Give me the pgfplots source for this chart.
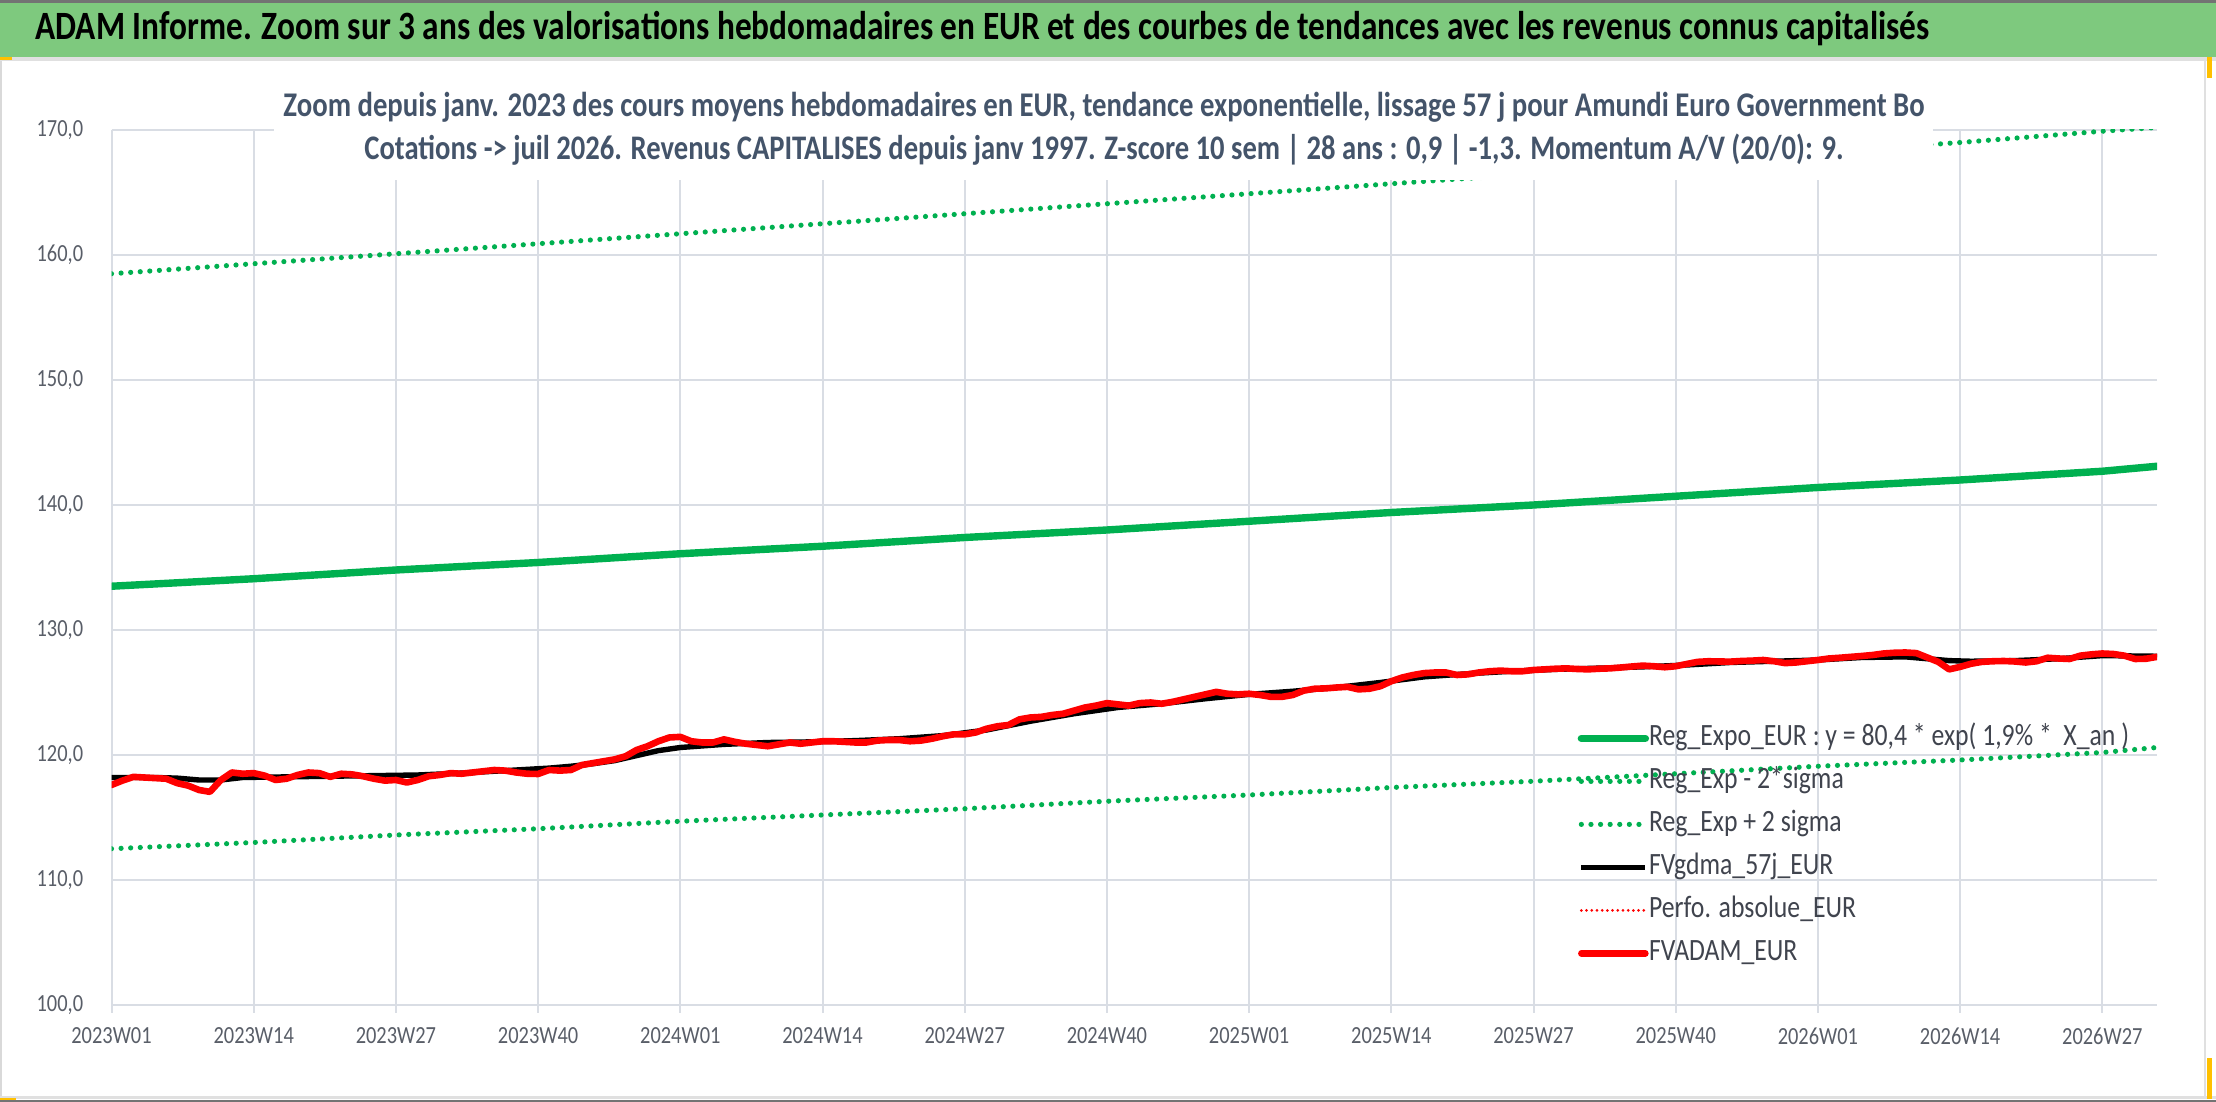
\documentclass[border=0pt]{standalone}
\usepackage{pgfplots}
\pgfplotsset{compat=1.18}
\usepackage{fontspec}
\setmainfont{Carlito}[FakeStretch=0.83]
\usepackage{graphicx}

\definecolor{bargreen}{RGB}{126,201,126}
\definecolor{xlgreen}{RGB}{0,176,80}
\definecolor{gridc}{RGB}{217,221,228}
\definecolor{titlec}{RGB}{68,84,106}
\definecolor{labc}{RGB}{89,94,104}
\definecolor{legc}{RGB}{64,68,78}
\definecolor{xlred}{RGB}{255,0,0}
\definecolor{handle}{RGB}{255,192,0}

\begin{document}
\begin{tikzpicture}[x=1pt,y=1pt]
\path[use as bounding box] (0,0) rectangle (1108,551);
\fill[white] (0,0) rectangle (1108,551);
% frame
\fill[black!55] (0,549.6) rectangle (1108,551);
\fill[bargreen] (0,522.5) rectangle (1108,549.6);
\fill[black!12] (0,520.6) rectangle (1108,522.3);
\fill[black!15] (0,0) rectangle (1,520.6);
\fill[black!12] (0,1.6) rectangle (1108,2.8);
\fill[black!55] (0,0) rectangle (1108,0.8);
\fill[black!12] (1102,2) rectangle (1103.2,520.6);
\fill[handle] (0,521) rectangle (6,522.5);
\fill[handle] (1103.5,512) rectangle (1106,522.5);
\fill[handle] (1103.5,1.5) rectangle (1106,22);
\fill[handle] (0,0.8) rectangle (8,2.2);

\begin{axis}[
  at={(55.75pt,48.5pt)}, anchor=south west,
  width=1022.75pt, height=437.5pt, scale only axis,
  xmin=0, xmax=187, ymin=100, ymax=170,
  axis line style={draw=none},
  xtick={0,13,26,39,52,65,78,91,104,117,130,143,156,169,182},
  xticklabels={2023W01,2023W14,2023W27,2023W40,2024W01,2024W14,2024W27,2024W40,2025W01,2025W14,2025W27,2025W40,2026W01,2026W14,2026W27},
  ytick={100,110,120,130,140,150,160,170},
  xmajorgrids, ymajorgrids,
  major grid style={draw=gridc, line width=1pt},
  tick align=outside, tick pos=left,
  major tick length=4pt,
  xtick style={draw=gridc, line width=1pt},
  ytick style={draw=none},
  ticklabel style={font=\fontsize{12.3}{14}\selectfont, text=labc},
  xticklabel style={anchor=north, inner sep=0pt, yshift=-7pt},
  yticklabel style={anchor=east, inner sep=0pt, xshift=-10pt},
  /pgf/number format/.cd, fixed, fixed zerofill, precision=1, use comma, 1000 sep={}, assume math mode=true,
  /pgfplots/.cd,
  legend cell align=left,
  legend image code/.code={\draw[#1] (0pt,0pt) -- (32pt,0pt);},
  legend style={at={(axis cs:134,122.52)}, anchor=north west, draw=none, fill=none,
    font=\fontsize{15.5}{17}\selectfont, text=legc, inner sep=0pt, row sep=7pt,
    nodes={inner sep=0pt, text height=11pt, text depth=3.5pt},
    /tikz/every even column/.append style={column sep=2.5pt}},
]
% Regression expo
\addplot[xlgreen, line width=3.7pt, line cap=round] coordinates {
(0,133.5)(13,134.1)(26,134.8)(39,135.4)(52,136.1)(65,136.7)(78,137.4)(91,138.0)(104,138.7)(117,139.4)(130,140.0)(143,140.7)(156,141.4)(169,142.0)(182,142.7)(187,143.1)};
\addlegendentry{Reg\_Expo\_EUR : y = 80,4 * exp( 1,9\% *\ \ X\_an )}
% lower band
\addplot[xlgreen, line width=2.6pt, line cap=round, dash pattern=on 0pt off 4.8pt] coordinates {
(0,112.5)(13,113.0)(26,113.6)(39,114.1)(52,114.7)(65,115.2)(78,115.7)(91,116.3)(104,116.8)(117,117.4)(130,117.9)(143,118.5)(156,119.1)(169,119.6)(182,120.2)(187,120.6)};
\addlegendentry{Reg\_Exp - 2*sigma}
% upper band
\addplot[xlgreen, line width=2.6pt, line cap=round, dash pattern=on 0pt off 4.8pt] coordinates {
(0,158.5)(13,159.3)(26,160.1)(39,160.9)(52,161.7)(65,162.5)(78,163.3)(91,164.1)(104,164.9)(117,165.7)(130,166.5)(143,167.4)(156,168.2)(169,169.0)(182,169.9)(187,170.2)};
\addlegendentry{Reg\_Exp + 2 sigma}
% smoothed 57 days
\addplot[black, line width=2.7pt, line join=round] coordinates {
(0,118.2)(4,118.2)(6,118.15)(8,118.0)(10,118.0)(12,118.2)(16,118.25)(20,118.3)(24,118.35)(28,118.4)(32,118.55)(36,118.75)(40,118.95)(42,119.1)(44,119.3)(46,119.55)(48,119.95)(50,120.35)(52,120.6)(56,120.85)(60,121.0)(64,121.05)(68,121.15)(72,121.3)(76,121.55)(80,122.0)(84,122.7)(88,123.3)(92,123.8)(96,124.1)(100,124.5)(104,124.85)(108,125.1)(112,125.4)(116,125.8)(120,126.25)(124,126.5)(128,126.7)(132,126.85)(136,126.95)(140,127.05)(144,127.2)(148,127.4)(152,127.5)(156,127.6)(160,127.8)(164,127.85)(166,127.7)(168,127.55)(170,127.5)(174,127.55)(178,127.7)(182,127.95)(187,127.9)};
\addlegendentry{FVgdma\_57j\_EUR}
\addlegendimage{xlred, line width=1.5pt, line cap=round, dash pattern=on 0pt off 2.6pt}
\addlegendentry{Perfo. absolue\_EUR}
% FVADAM
\addplot[xlred, line width=3.3pt, line join=round, line cap=round] coordinates {
(0,117.6)(1,117.95)(2,118.25)(3,118.2)(4,118.15)(5,118.1)(6,117.75)(7,117.55)(8,117.2)(9,117.05)(10,118.0)(11,118.6)(12,118.5)(13,118.55)(14,118.35)(15,118.0)(16,118.1)(17,118.4)(18,118.6)(19,118.55)(20,118.25)(21,118.5)(22,118.45)(23,118.3)(24,118.1)(25,117.95)(26,118.0)(27,117.8)(28,118.0)(29,118.3)(30,118.4)(31,118.55)(32,118.5)(33,118.6)(34,118.7)(35,118.8)(36,118.75)(37,118.6)(38,118.5)(39,118.48)(40,118.8)(41,118.75)(42,118.8)(43,119.2)(44,119.35)(45,119.5)(46,119.65)(47,119.9)(48,120.4)(49,120.7)(50,121.1)(51,121.4)(52,121.45)(53,121.1)(54,121.0)(55,121.0)(56,121.25)(57,121.05)(58,120.9)(59,120.8)(60,120.7)(61,120.85)(62,121.0)(63,120.9)(64,121.0)(65,121.1)(66,121.1)(67,121.05)(68,121.0)(69,121.0)(70,121.15)(71,121.2)(72,121.2)(73,121.1)(74,121.15)(75,121.3)(76,121.5)(77,121.65)(78,121.65)(79,121.8)(80,122.1)(81,122.3)(82,122.4)(83,122.85)(84,123.0)(85,123.05)(86,123.2)(87,123.3)(88,123.55)(89,123.8)(90,123.95)(91,124.15)(92,124.05)(93,123.95)(94,124.15)(95,124.2)(96,124.1)(97,124.25)(98,124.45)(99,124.65)(100,124.85)(101,125.05)(102,124.9)(103,124.85)(104,124.9)(105,124.8)(106,124.65)(107,124.65)(108,124.8)(109,125.15)(110,125.3)(111,125.33)(112,125.4)(113,125.45)(114,125.25)(115,125.3)(116,125.5)(117,125.9)(118,126.2)(119,126.4)(120,126.55)(121,126.6)(122,126.6)(123,126.4)(124,126.45)(125,126.6)(126,126.7)(127,126.75)(128,126.7)(129,126.7)(130,126.8)(131,126.85)(132,126.9)(133,126.93)(134,126.88)(135,126.85)(136,126.9)(137,126.93)(138,127.0)(139,127.08)(140,127.15)(141,127.1)(142,127.02)(143,127.1)(144,127.28)(145,127.45)(146,127.5)(147,127.48)(148,127.47)(149,127.52)(150,127.55)(151,127.6)(152,127.5)(153,127.35)(154,127.4)(155,127.5)(156,127.6)(157,127.72)(158,127.78)(159,127.85)(160,127.92)(161,128.0)(162,128.12)(163,128.18)(164,128.2)(165,128.15)(166,127.8)(167,127.45)(168,126.85)(169,127.05)(170,127.3)(171,127.45)(172,127.5)(173,127.52)(174,127.48)(175,127.4)(176,127.5)(177,127.78)(178,127.72)(179,127.68)(180,127.95)(181,128.05)(182,128.12)(183,128.08)(184,127.95)(185,127.68)(186,127.7)(187,127.85)};
\addlegendentry{FVADAM\_EUR}
\end{axis}

% chart title box
\fill[white] (137,461) rectangle (966.5,520);
\node[anchor=center, inner sep=0pt, text=titlec] at (552,497.5)
  {\resizebox{820.5pt}{!}{\bfseries Zoom depuis janv. 2023 des cours moyens hebdomadaires en EUR, tendance exponentielle, lissage 57 j pour Amundi Euro Government Bo}};
\node[anchor=center, inner sep=0pt, text=titlec] at (552,476)
  {\resizebox{739.5pt}{!}{\bfseries Cotations -> juil 2026. Revenus CAPITALISES depuis janv 1997. Z-score 10 sem | 28 ans : 0,9 | -1,3. Momentum A/V (20/0): 9.}};
% top banner title
\node[anchor=west, inner sep=0pt, text=black] at (17.5,536.5)
  {\resizebox{947pt}{!}{\bfseries ADAM Informe. Zoom sur 3 ans des valorisations hebdomadaires en EUR et des courbes de tendances avec les revenus connus capitalisés}};
\end{tikzpicture}
\end{document}
